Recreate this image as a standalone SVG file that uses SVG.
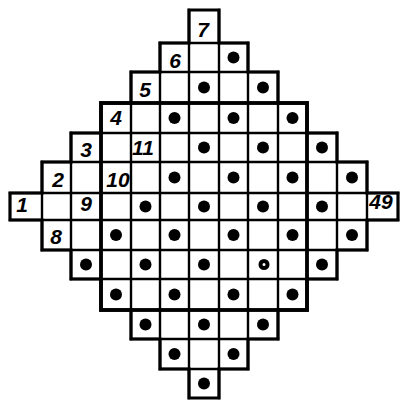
<svg xmlns="http://www.w3.org/2000/svg" width="402" height="406" viewBox="0 0 402 406">
<style>
.grid{stroke:#000;stroke-width:2.4;fill:none;stroke-linecap:square}
.outline{stroke:#000;stroke-width:3.2;fill:none;stroke-linejoin:miter}
.inner{stroke:#000;stroke-width:3.8;fill:none}
.dot{fill:#000}
.num{font-family:"Liberation Sans",Arial,sans-serif;font-style:italic;font-weight:bold;font-size:21px;fill:#000;text-anchor:middle}
</style>
<rect width="402" height="406" fill="#fff"/>
<g id="grid">
<path class="grid" d="M160 43H248M131 72H278M101 103H307M71 133H337M42 162H367M10 193H398M10 220H398M42 250H367M71 279H337M101 310H307M131 339H278M160 369H248"/>
<path class="grid" d="M42 162V250M71 133V279M101 103V310M131 72V339M160 43V369M189 10V398M219 10V398M248 43V369M278 72V339M307 103V310M337 133V279M367 162V250"/>
<path class="outline" d="M189 10H219V43H248V72H278V103H307V133H337V162H367V193H398V220H367V250H337V279H307V310H278V339H248V369H219V398H189V369H160V339H131V310H101V279H71V250H42V220H10V193H42V162H71V133H101V103H131V72H160V43H189Z"/>
<rect id="inner-square" class="inner" x="101" y="103" width="206" height="207"/>
</g>
<g id="dots">
<circle class="dot" cx="233.5" cy="57.5" r="6"/>
<circle class="dot" cx="204" cy="87.5" r="6"/>
<circle class="dot" cx="263" cy="87.5" r="6"/>
<circle class="dot" cx="174.5" cy="118" r="6"/>
<circle class="dot" cx="233.5" cy="118" r="6"/>
<circle class="dot" cx="292.5" cy="118" r="6"/>
<circle class="dot" cx="204" cy="147.5" r="6"/>
<circle class="dot" cx="263" cy="147.5" r="6"/>
<circle class="dot" cx="322" cy="147.5" r="6"/>
<circle class="dot" cx="174.5" cy="177.5" r="6"/>
<circle class="dot" cx="233.5" cy="177.5" r="6"/>
<circle class="dot" cx="292.5" cy="177.5" r="6"/>
<circle class="dot" cx="352" cy="177.5" r="6"/>
<circle class="dot" cx="145.5" cy="206.5" r="6"/>
<circle class="dot" cx="204" cy="206.5" r="6"/>
<circle class="dot" cx="263" cy="206.5" r="6"/>
<circle class="dot" cx="322" cy="206.5" r="6"/>
<circle class="dot" cx="116" cy="235" r="6"/>
<circle class="dot" cx="174.5" cy="235" r="6"/>
<circle class="dot" cx="233.5" cy="235" r="6"/>
<circle class="dot" cx="292.5" cy="235" r="6"/>
<circle class="dot" cx="352" cy="235" r="6"/>
<circle class="dot" cx="86" cy="264.5" r="6"/>
<circle class="dot" cx="145.5" cy="264.5" r="6"/>
<circle class="dot" cx="204" cy="264.5" r="6"/>
<circle cx="264" cy="264.5" r="3.5" fill="none" stroke="#000" stroke-width="4"/>
<circle class="dot" cx="322" cy="264.5" r="6"/>
<circle class="dot" cx="116" cy="294.5" r="6"/>
<circle class="dot" cx="174.5" cy="294.5" r="6"/>
<circle class="dot" cx="233.5" cy="294.5" r="6"/>
<circle class="dot" cx="292.5" cy="294.5" r="6"/>
<circle class="dot" cx="145.5" cy="324.5" r="6"/>
<circle class="dot" cx="204" cy="324.5" r="6"/>
<circle class="dot" cx="263" cy="324.5" r="6"/>
<circle class="dot" cx="174.5" cy="354" r="6"/>
<circle class="dot" cx="233.5" cy="354" r="6"/>
<circle class="dot" cx="204" cy="383.5" r="6"/>
</g>
<g id="labels">
<text class="num" x="203" y="37">7</text>
<text class="num" x="175" y="68">6</text>
<text class="num" x="145" y="97">5</text>
<text class="num" x="116" y="125">4</text>
<text class="num" x="86" y="157">3</text>
<text class="num" x="143" y="155">11</text>
<text class="num" x="58" y="187">2</text>
<text class="num" x="118" y="187">10</text>
<text class="num" x="22" y="212">1</text>
<text class="num" x="86" y="211">9</text>
<text class="num" x="56" y="244">8</text>
<text class="num" x="381" y="209">49</text>
</g>
</svg>
